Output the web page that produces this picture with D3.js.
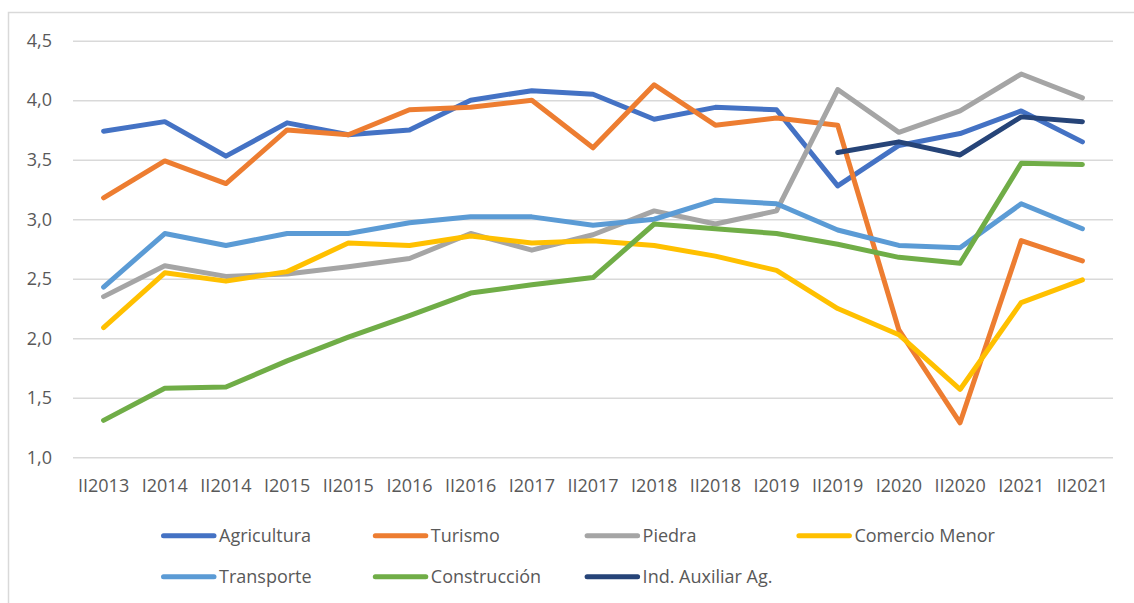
<!DOCTYPE html>
<html>
<head>
<meta charset="utf-8">
<script src="https://cdn.jsdelivr.net/npm/d3@7"></script>
<style>
  body { margin: 0; background: #fff; }
  svg { display: block; font-family: "Open Sans", sans-serif; }
</style>
</head>
<body>
<div id="chart"></div>
<script>
const periods = ["II2013", "I2014", "II2014", "I2015", "II2015", "I2016", "II2016", "I2017", "II2017",
  "I2018", "II2018", "I2019", "II2019", "I2020", "II2020", "I2021", "II2021"];

const agricultura  = [3.74, 3.82, 3.53, 3.81, 3.71, 3.75, 4.00, 4.08, 4.05, 3.84, 3.94, 3.92, 3.28, 3.62, 3.72, 3.91, 3.65];
const turismo      = [3.18, 3.49, 3.30, 3.75, 3.71, 3.92, 3.94, 4.00, 3.60, 4.13, 3.79, 3.85, 3.79, 2.07, 1.29, 2.82, 2.65];
const piedra       = [2.35, 2.61, 2.52, 2.54, 2.60, 2.67, 2.88, 2.74, 2.87, 3.07, 2.96, 3.07, 4.09, 3.73, 3.91, 4.22, 4.02];
const comercio     = [2.09, 2.55, 2.48, 2.56, 2.80, 2.78, 2.86, 2.80, 2.82, 2.78, 2.69, 2.57, 2.25, 2.03, 1.57, 2.30, 2.49];
const transporte   = [2.43, 2.88, 2.78, 2.88, 2.88, 2.97, 3.02, 3.02, 2.95, 3.00, 3.16, 3.13, 2.91, 2.78, 2.76, 3.13, 2.92];
const construccion = [1.31, 1.58, 1.59, 1.81, 2.01, 2.19, 2.38, 2.45, 2.51, 2.96, 2.92, 2.88, 2.79, 2.68, 2.63, 3.47, 3.46];
const indAuxiliar  = [null, null, null, null, null, null, null, null, null, null, null, null, 3.56, 3.65, 3.54, 3.86, 3.82];

const yTicks = [1.0, 1.5, 2.0, 2.5, 3.0, 3.5, 4.0, 4.5];

const series = [
  { name: "Agricultura", values: agricultura, color: "#4472C4" },
  { name: "Turismo", values: turismo, color: "#ED7D31" },
  { name: "Piedra", values: piedra, color: "#A5A5A5" },
  { name: "Comercio Menor", values: comercio, color: "#FFC000" },
  { name: "Transporte", values: transporte, color: "#5B9BD5" },
  { name: "Construcción", values: construccion, color: "#70AD47" },
  { name: "Ind. Auxiliar Ag.", values: indAuxiliar, color: "#264478" }
];

const width = 1134, height = 603;
const plot = { left: 73, right: 1113, top: 40.7, bottom: 457.3 };

const svg = d3.select("#chart").append("svg")
  .attr("width", width)
  .attr("height", height);

// chart frame
svg.append("rect")
  .attr("x", 8.5).attr("y", 12.5)
  .attr("width", width + 20).attr("height", height + 20)
  .attr("fill", "none")
  .attr("stroke", "#d9d9d9")
  .attr("stroke-width", 1.5);

const x = d3.scaleBand()
  .domain(periods)
  .range([plot.left, plot.right]);

const y = d3.scaleLinear()
  .domain([1.0, 4.5])
  .range([plot.bottom, plot.top]);

const fmt = v => d3.format(".1f")(v).replace(".", ",");

// gridlines + y labels
const yAxis = svg.append("g")
  .attr("transform", `translate(${plot.left},0)`)
  .call(d3.axisLeft(y).tickValues(yTicks).tickSize(-(plot.right - plot.left)).tickPadding(21).tickFormat(fmt));
yAxis.select(".domain").remove();
yAxis.selectAll(".tick line").attr("stroke", "#d9d9d9").attr("stroke-width", 1.5);
yAxis.selectAll(".tick text")
  .attr("fill", "#595959")
  .style("font-size", "18px")
  .style("font-family", "'Open Sans', sans-serif");

// x labels
const xAxis = svg.append("g")
  .attr("transform", `translate(0,${plot.bottom})`)
  .call(d3.axisBottom(x).tickSize(0).tickPadding(22));
xAxis.select(".domain").remove();
xAxis.selectAll(".tick text")
  .attr("fill", "#595959")
  .style("font-size", "18px")
  .style("font-family", "'Open Sans', sans-serif");

// lines
const line = d3.line()
  .defined(d => d != null)
  .x((d, i) => x(periods[i]) + x.bandwidth() / 2)
  .y(d => y(d));

svg.append("g")
  .selectAll("path")
  .data(series)
  .join("path")
  .attr("fill", "none")
  .attr("stroke", d => d.color)
  .attr("stroke-width", 5)
  .attr("stroke-linecap", "round")
  .attr("stroke-linejoin", "round")
  .attr("d", d => line(d.values));

// legend
const legendCols = 4, colStep = 211.8, legendX = 161, rowY = [535.7, 576.7];
const legend = svg.append("g")
  .selectAll("g")
  .data(series)
  .join("g")
  .attr("transform", (d, i) => `translate(${legendX + (i % legendCols) * colStep},${rowY[Math.floor(i / legendCols)]})`);

legend.append("line")
  .attr("x1", 2.5).attr("x2", 53)
  .attr("stroke", d => d.color)
  .attr("stroke-width", 5)
  .attr("stroke-linecap", "round");

legend.append("text")
  .attr("x", 58)
  .attr("dy", "0.35em")
  .attr("fill", "#595959")
  .style("font-size", "18px")
  .text(d => d.name);
</script>
</body>
</html>
